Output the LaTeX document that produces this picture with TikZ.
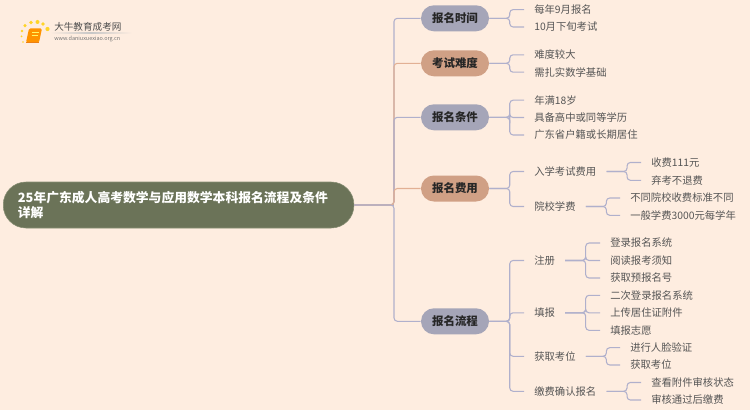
\documentclass[tikz,border=0pt]{standalone}
\usepackage{fontspec}
\newfontfamily\cjk{Noto Sans CJK SC}
\definecolor{paper}{RGB}{254,237,224}
\definecolor{rootfill}{RGB}{107,115,88}
\definecolor{slate}{RGB}{165,165,184}
\definecolor{clay}{RGB}{208,160,133}
\definecolor{linkgray}{RGB}{176,176,204}
\definecolor{linkclay}{RGB}{226,176,148}
\definecolor{leaftext}{RGB}{85,85,85}
\tikzset{
  rootpill/.style={fill=rootfill,draw={rgb, 255:red, 135; green, 142; blue, 115 },line width=0.4pt,rounded corners=17pt,minimum width=263pt,minimum height=34.5pt,inner xsep=11pt,inner ysep=0pt,text width=241pt,align=left,text=white,font=\cjk\bfseries\fontsize{9.6}{10.9}\selectfont},
  pill/.style={rounded corners=9.7pt,minimum width=51pt,minimum height=19.5pt,inner sep=0pt,text=black!85,font=\cjk\bfseries\fontsize{8.6}{10}\selectfont},
  slatepill/.style={pill,fill=slate},
  claypill/.style={pill,fill=clay},
  leaf/.style={anchor=west,inner xsep=7.5pt,inner ysep=1pt,text=leaftext,font=\cjk\fontsize{7.75}{9}\selectfont},
  fork/.style={rounded corners=2.5pt,line width=0.8pt,to path={-- ++(20.5,0) |- (\tikztotarget)}},
  trunk/.style={rounded corners=2.5pt,line width=0.8pt,to path={-- (394,205) |- (\tikztotarget)}},
}
\begin{document}
\begin{tikzpicture}[x=0.75pt,y=0.75pt,yscale=-1,xscale=1]
\useasboundingbox (0,0) rectangle (750,410);
\fill [paper] (0,0) rectangle (750,410);

% Text Node
\node [rootpill,anchor=west] (root) at (3,205) {25年广东成人高考数学与应用数学本科报名流程及条件\\详解};
\node [slatepill] (shijian) at (455,18.3) {报名时间};
\node [claypill] (nandu) at (455,63.3) {考试难度};
\node [slatepill] (tiaojian) at (455,117.3) {报名条件};
\node [claypill] (feiyong) at (455,188.5) {报名费用};
\node [slatepill] (liucheng) at (455,321.3) {报名流程};

% Text Node
\node [leaf] (sj1) at (524,9.6) {每年9月报名};
\node [leaf] (sj2) at (524,27) {10月下旬考试};
\node [leaf] (nd1) at (524,54.8) {难度较大};
\node [leaf] (nd2) at (524,72.2) {需扎实数学基础};
\node [leaf] (tj1) at (524,100.2) {年满18岁};
\node [leaf] (tj2) at (524,117.5) {具备高中或同等学历};
\node [leaf] (tj3) at (524,135) {广东省户籍或长期居住};
\node [leaf] (fy1) at (524,171.5) {入学考试费用};
\node [leaf] (fy2) at (524,206.5) {院校学费};
\node [leaf] (fy11) at (641,162.5) {收费111元};
\node [leaf] (fy12) at (641,180.3) {弃考不退费};
\node [leaf] (fy21) at (620,198) {不同院校收费标准不同};
\node [leaf] (fy22) at (620,215.3) {一般学费3000元每学年};
\node [leaf] (lc1) at (524,260.5) {注册};
\node [leaf] (lc2) at (524,312.8) {填报};
\node [leaf] (lc3) at (524,356.3) {获取考位};
\node [leaf] (lc4) at (524,391.3) {缴费确认报名};
\node [leaf] (lc11) at (600,243) {登录报名系统};
\node [leaf] (lc12) at (600,260.5) {阅读报考须知};
\node [leaf] (lc13) at (600,278) {获取预报名号};
\node [leaf] (lc21) at (600,295.3) {二次登录报名系统};
\node [leaf] (lc22) at (600,312.8) {上传居住证附件};
\node [leaf] (lc23) at (600,330.3) {填报志愿};
\node [leaf] (lc31) at (620,347.7) {进行人脸验证};
\node [leaf] (lc32) at (620,365) {获取考位};
\node [leaf] (lc41) at (641,382.5) {查看附件审核状态};
\node [leaf] (lc42) at (641,400) {审核通过后缴费};

%Straight Lines
\draw [line width=0.8pt,linkgray] (root.east) -- (394,205);
\draw [trunk,linkgray] (root.east) to (shijian.west);
\draw [trunk,linkclay] (root.east) to (nandu.west);
\draw [trunk,linkgray] (root.east) to (tiaojian.west);
\draw [trunk,linkclay] (root.east) to (feiyong.west);
\draw [trunk,linkgray] (root.east) to (liucheng.west);

%Straight Lines
\draw [fork,linkgray] (shijian.east) to (sj1.west);
\draw [fork,linkgray] (shijian.east) to (sj2.west);
\draw [fork,linkgray] (nandu.east) to (nd1.west);
\draw [fork,linkgray] (nandu.east) to (nd2.west);
\draw [fork,linkgray] (tiaojian.east) to (tj1.west);
\draw [fork,linkgray] (tiaojian.east) to (tj2.west);
\draw [fork,linkgray] (tiaojian.east) to (tj3.west);
\draw [fork,linkgray] (feiyong.east) to (fy1.west);
\draw [fork,linkgray] (feiyong.east) to (fy2.west);
\draw [fork,linkgray] (fy1.east) to (fy11.west);
\draw [fork,linkgray] (fy1.east) to (fy12.west);
\draw [fork,linkgray] (fy2.east) to (fy21.west);
\draw [fork,linkgray] (fy2.east) to (fy22.west);
\draw [fork,linkgray] (liucheng.east) to (lc1.west);
\draw [fork,linkgray] (liucheng.east) to (lc2.west);
\draw [fork,linkgray] (liucheng.east) to (lc3.west);
\draw [fork,linkgray] (liucheng.east) to (lc4.west);
\draw [fork,linkgray] (lc1.east) to (lc11.west);
\draw [fork,linkgray] (lc1.east) to (lc12.west);
\draw [fork,linkgray] (lc1.east) to (lc13.west);
\draw [fork,linkgray] (lc2.east) to (lc21.west);
\draw [fork,linkgray] (lc2.east) to (lc22.west);
\draw [fork,linkgray] (lc2.east) to (lc23.west);
\draw [fork,linkgray] (lc3.east) to (lc31.west);
\draw [fork,linkgray] (lc3.east) to (lc32.west);
\draw [fork,linkgray] (lc4.east) to (lc41.west);
\draw [fork,linkgray] (lc4.east) to (lc42.west);

%Shape: logo
\fill [orange!85!yellow,rounded corners=1pt] (29,28.5) -- (42,28.5) -- (39,42.5) -- (26,42.5) -- cycle;
\draw [yellow!60!white,line width=0.5pt] (32,32) -- (38.5,32) (31.5,35) -- (38,35);
\draw [orange!70!brown,line width=0.6pt] (26,42.5) -- (39,42.5);
\fill [orange!40!yellow!85!white] (22,31) circle (1.3) (25,25.7) circle (1.7) (31,22.5) circle (1.9) (37.5,22) circle (2) (43,24) circle (1.9) (47.5,29) circle (2.1) (21.5,36.5) circle (1) (23,42) circle (0.8);
\fill [left color=paper,right color=paper,middle color=black!22] (50,33) rectangle (132,33.7);

% Text Node
\node [anchor=west,inner sep=0pt,text=black!70,font=\cjk\fontsize{7.2}{9}\selectfont] (logoname) at (54,27) {大牛教育成考网};
\node [anchor=west,inner sep=0pt,text=black!55,font=\cjk\fontsize{4.1}{6}\selectfont] (logourl) at (54,39) {www.daniuxuexiao.org.cn};

\end{tikzpicture}
\end{document}
